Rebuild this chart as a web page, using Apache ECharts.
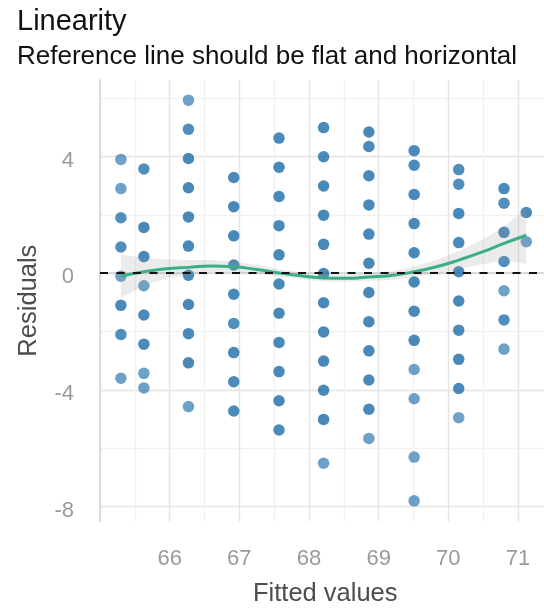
<!DOCTYPE html>
<html>
<head>
<meta charset="utf-8">
<script src="https://cdn.jsdelivr.net/npm/echarts@6/dist/echarts.min.js"></script>
<style>
  html, body { margin: 0; padding: 0; background: #ffffff; }
  #chart { width: 544px; height: 608px; }
</style>
</head>
<body>
<div id="chart"></div>
<script>
// Residuals of a height regression, one column of residuals per fitted value.
const fittedValues = [65.30, 65.63, 66.27, 66.92, 67.57, 68.21, 68.86, 69.51, 70.15, 70.80, 71.12];

const residualsByFit = [
  [3.90, 2.90, 1.90, 0.90, -0.10, -1.10, -2.10, -3.60],
  [3.57, 1.57, 0.57, -0.43, -1.43, -2.43, -3.43, -3.93],
  [5.93, 4.93, 3.93, 2.93, 1.93, 0.93, -0.07, -1.07, -2.07, -3.07, -4.57],
  [3.28, 2.28, 1.28, 0.28, -0.72, -1.72, -2.72, -3.72, -4.72],
  [4.63, 3.63, 2.63, 1.63, 0.63, -0.37, -1.37, -2.37, -3.37, -4.37, -5.37],
  [4.99, 3.99, 2.99, 1.99, 0.99, -0.01, -1.01, -2.01, -3.01, -4.01, -5.01, -6.51],
  [4.84, 4.34, 3.34, 2.34, 1.34, 0.34, -0.66, -1.66, -2.66, -3.66, -4.66, -5.66],
  [4.20, 3.70, 2.70, 1.70, 0.70, -0.30, -1.30, -2.30, -3.30, -4.30, -6.30, -7.80],
  [3.55, 3.05, 2.05, 1.05, 0.05, -0.95, -1.95, -2.95, -3.95, -4.95],
  [2.90, 2.40, 1.40, 0.40, -0.60, -1.60, -2.60],
  [2.08, 1.08]
];

// How many observations sit on each point (overplotting makes stacked points darker).
const countsByFit = [
  [1, 1, 2, 2, 1, 4, 2, 1],
  [2, 5, 5, 1, 4, 4, 1, 1],
  [1, 2, 5, 7, 7, 11, 11, 7, 5, 9, 1],
  [4, 13, 14, 17, 17, 2, 5, 3, 3],
  [4, 11, 19, 38, 28, 38, 36, 15, 14, 5, 3],
  [3, 4, 18, 21, 48, 34, 31, 25, 16, 11, 7, 1],
  [5, 4, 11, 20, 25, 33, 20, 27, 17, 4, 16, 1],
  [3, 3, 4, 7, 14, 18, 12, 3, 1, 1, 1, 1],
  [2, 2, 9, 4, 10, 5, 3, 4, 3, 1],
  [4, 2, 7, 2, 1, 2, 1],
  [3, 1]
];

// Loess smooth of the residuals with its confidence band.
const smoothX     = [65.30, 65.63, 65.95, 66.27, 66.60, 66.92, 67.25, 67.57, 67.89, 68.21, 68.54, 68.86, 69.18, 69.51, 69.83, 70.15, 70.48, 70.80, 71.12];
const smoothFit   = [-0.10, 0.05, 0.15, 0.20, 0.25, 0.22, 0.13, 0.01, -0.09, -0.16, -0.17, -0.13, -0.08, 0.05, 0.22, 0.45, 0.72, 1.02, 1.30];
const smoothLower = [-0.84, -0.42, -0.18, -0.05, 0.05, 0.04, -0.02, -0.12, -0.21, -0.28, -0.29, -0.26, -0.23, -0.13, -0.01, 0.15, 0.30, 0.45, 0.32];
const smoothUpper = [0.64, 0.52, 0.48, 0.45, 0.45, 0.40, 0.28, 0.14, 0.03, -0.04, -0.05, 0.00, 0.07, 0.23, 0.45, 0.75, 1.14, 1.59, 2.22];

const xTickLabels = [66, 67, 68, 69, 70, 71];
const yTickLabels = [-8, -4, 0, 4];

const FONT = '"Liberation Sans", Arial, Helvetica, sans-serif';
const DOT_RGB = '27,108,168';
const MAJOR_GRID = '#e4e4e4';
const MINOR_GRID = '#f1f1f1';

const points = [];
fittedValues.forEach((fx, i) => {
  residualsByFit[i].forEach((r, j) => {
    points.push([fx, r, countsByFit[i][j]]);
  });
});

const chart = echarts.init(document.getElementById('chart'), null, { renderer: 'canvas' });

chart.setOption({
  animation: false,
  backgroundColor: '#ffffff',
  title: [
    {
      text: 'Linearity',
      left: 12, top: 2,
      textStyle: { fontFamily: FONT, fontSize: 29, fontWeight: 'normal', color: '#111111' }
    },
    {
      text: 'Reference line should be flat and horizontal',
      left: 12, top: 39,
      textStyle: { fontFamily: FONT, fontSize: 26, fontWeight: 'normal', color: '#111111' }
    }
  ],
  grid: {
    left: 100, right: -2.5, top: 80, bottom: 86.7,
    containLabel: false,
    outerBoundsMode: 'none'
  },
  xAxis: {
    type: 'value',
    min: 65, max: 71.41, interval: 0.5,
    name: 'Fitted values',
    nameLocation: 'middle',
    nameGap: 60,
    nameTextStyle: { fontFamily: FONT, fontSize: 25.5, color: '#4d4d4d', padding: [0, 0, 0, 4] },
    axisLine: { show: true, lineStyle: { color: '#d9d9d9', width: 1.8 } },
    axisTick: { show: false },
    axisLabel: {
      margin: 27,
      fontFamily: FONT, fontSize: 22, color: '#9a9a9a',
      formatter: v => (xTickLabels.indexOf(Math.round(v * 100) / 100) >= 0 ? String(v) : '')
    },
    splitLine: { show: true, lineStyle: { color: [MAJOR_GRID, MINOR_GRID], width: 1.4 } }
  },
  yAxis: {
    type: 'value',
    min: -8.5, max: 6.62, interval: 0.5,
    name: 'Residuals',
    nameLocation: 'middle',
    nameGap: 58,
    nameRotate: 90,
    nameTextStyle: { fontFamily: FONT, fontSize: 25.5, color: '#4d4d4d' },
    axisLine: { show: true, lineStyle: { color: '#d9d9d9', width: 1.8 } },
    axisTick: { show: false },
    axisLabel: {
      margin: 26,
      verticalAlign: 'top',
      lineHeight: 8,
      fontFamily: FONT, fontSize: 22, color: '#9a9a9a',
      formatter: v => (yTickLabels.indexOf(Math.round(v * 100) / 100) >= 0 ? String(v) : '')
    },
    // lines every 0.5: majors on the labelled values, minors halfway between them
    splitLine: {
      show: true,
      lineStyle: {
        color: ['rgba(0,0,0,0)', MAJOR_GRID, 'rgba(0,0,0,0)', 'rgba(0,0,0,0)',
                'rgba(0,0,0,0)', MINOR_GRID, 'rgba(0,0,0,0)', 'rgba(0,0,0,0)'],
        width: 1.4
      }
    }
  },
  series: [
    {
      name: 'residuals',
      type: 'scatter',
      z: 2,
      symbol: 'circle',
      symbolSize: 11.5,
      data: points,
      itemStyle: {
        color: p => 'rgba(' + DOT_RGB + ',' + (1 - Math.pow(0.2, p.data[2])).toFixed(3) + ')'
      }
    },
    {
      // confidence band: upper edge left to right, lower edge back again
      name: 'ci-band',
      type: 'custom',
      z: 3,
      clip: true,
      data: [[smoothX[0], smoothFit[0]]],
      renderItem: (params, api) => {
        const pts = [];
        for (let i = 0; i < smoothX.length; i++) pts.push(api.coord([smoothX[i], smoothUpper[i]]));
        for (let i = smoothX.length - 1; i >= 0; i--) pts.push(api.coord([smoothX[i], smoothLower[i]]));
        return {
          type: 'polygon',
          shape: { points: pts },
          style: { fill: 'rgba(153,153,153,0.2)', stroke: null }
        };
      }
    },
    {
      name: 'loess',
      type: 'line',
      z: 4,
      smooth: true,
      symbol: 'none',
      lineStyle: { color: '#3aaf85', width: 3 },
      data: smoothX.map((x, i) => [x, smoothFit[i]])
    },
    {
      name: 'zero',
      type: 'line',
      z: 5,
      data: [],
      markLine: {
        silent: true,
        symbol: ['none', 'none'],
        label: { show: false },
        lineStyle: { color: '#111111', type: [8, 8.5], width: 2 },
        data: [{ yAxis: 0 }]
      }
    }
  ]
});
</script>
</body>
</html>
